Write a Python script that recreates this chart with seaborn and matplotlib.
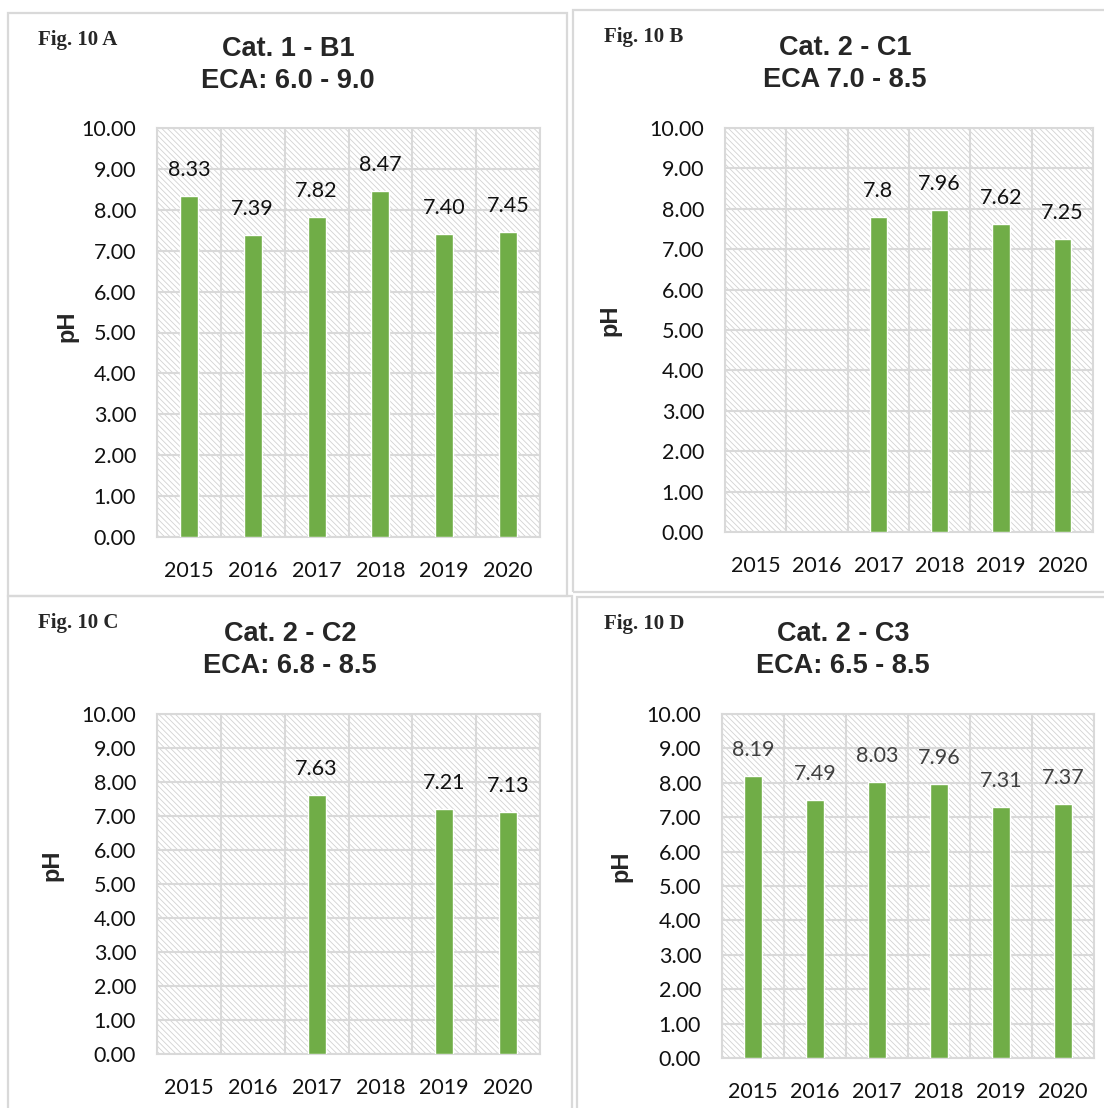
import numpy as np
import pandas as pd
import seaborn as sns
import matplotlib.pyplot as plt
from matplotlib.patches import Rectangle

# pH values per monitoring point and year (NaN = no sampling that year)
years = ["2015", "2016", "2017", "2018", "2019", "2020"]
ph_b1 = [8.33, 7.39, 7.82, 8.47, 7.40, 7.45]
ph_c1 = [np.nan, np.nan, 7.8, 7.96, 7.62, 7.25]
ph_c2 = [np.nan, np.nan, 7.63, np.nan, 7.21, 7.13]
ph_c3 = [8.19, 7.49, 8.03, 7.96, 7.31, 7.37]

fig_tags = ["Fig. 10 A", "Fig. 10 B", "Fig. 10 C", "Fig. 10 D"]
titles = ["Cat. 1 - B1\nECA: 6.0 - 9.0",
          "Cat. 2 - C1\nECA 7.0 - 8.5",
          "Cat. 2 - C2\nECA: 6.8 - 8.5",
          "Cat. 2 - C3\nECA: 6.5 - 8.5"]
y_ticks = [0, 1, 2, 3, 4, 5, 6, 7, 8, 9, 10]

sns.set_theme(style="white")
plt.rcParams["font.family"] = ["Lato", "DejaVu Sans"]
plt.rcParams["hatch.linewidth"] = 0.6

W, H = 1104, 1108
fig = plt.figure(figsize=(W / 100, H / 100), dpi=100)

GREEN = "#70ad47"
GRID = "#d9d9d9"


def fx(x):
    return x / W


def fy(y):
    return 1 - y / H


def panel_border(x0, y0, x1, y1):
    fig.patches.append(Rectangle((fx(x0), fy(y1)), fx(x1 - x0), (y1 - y0) / H,
                                 transform=fig.transFigure, fill=False,
                                 edgecolor=GRID, linewidth=1.6, zorder=0))


panels = [
    dict(vals=ph_b1, fmt="{:.2f}", lc="#111111", box=(157, 128, 540, 537),
         tag=(38, 40), title=(288, 65), ylab=(67, 326), border=(8, 13, 567, 596)),
    dict(vals=ph_c1, fmt="{:g}", lc="#111111", box=(725, 128, 1093, 532),
         tag=(604, 37), title=(845, 64), ylab=(610, 320), border=(573, 10, 1112, 592)),
    dict(vals=ph_c2, fmt="{:.2f}", lc="#111111", box=(157, 714, 540, 1054),
         tag=(38, 623), title=(290, 650), ylab=(52, 865), border=(8, 596, 572, 1116)),
    dict(vals=ph_c3, fmt="{:.2f}", lc="#404040", box=(722, 714, 1094, 1058),
         tag=(604, 624), title=(843, 650), ylab=(621, 866), border=(577, 597, 1112, 1116)),
]

for p, tag, title in zip(panels, fig_tags, titles):
    panel_border(*p["border"])
    x0, y0, x1, y1 = p["box"]
    ax = fig.add_axes([fx(x0), fy(y1), fx(x1 - x0), (y1 - y0) / H])
    ax.set_facecolor("white")
    # light diagonal hatching behind the plot area
    ax.add_patch(Rectangle((0, 0), 1, 1, transform=ax.transAxes, facecolor="white",
                           edgecolor="#d2d2d2", hatch="\\" * 6, linewidth=0, zorder=0))

    df = pd.DataFrame({"year": years, "pH": p["vals"]})
    sns.barplot(data=df, x="year", y="pH", order=years, color=GREEN,
                saturation=1, width=0.28, ax=ax, zorder=3)

    for i, v in enumerate(p["vals"]):
        if np.isnan(v):
            continue
        ax.annotate(p["fmt"].format(v), (i, v), xytext=(0, 26),
                    textcoords="offset pixels", ha="center", va="center",
                    fontsize=15.5, color=p["lc"], zorder=4)

    ax.set_ylim(0, 10)
    ax.set_xlim(-0.5, len(years) - 0.5)
    ax.set_yticks(y_ticks)
    ax.set_yticklabels([f"{t:.2f}" for t in y_ticks])
    ax.set_xticks(range(len(years)))
    ax.set_xticks(np.arange(-0.5, len(years), 1.0), minor=True)
    ax.grid(axis="y", which="major", color=GRID, linewidth=1.5, zorder=1)
    ax.grid(axis="x", which="minor", color=GRID, linewidth=1.5, zorder=1)
    ax.grid(axis="x", which="major", visible=False)
    ax.set_axisbelow(True)
    ax.tick_params(axis="both", which="both", length=0, labelsize=15.5,
                   colors="#111111")
    ax.tick_params(axis="y", pad=15)
    ax.tick_params(axis="x", pad=17)
    ax.set_xlabel("")
    ax.set_ylabel("")
    for s in ax.spines.values():
        s.set_color(GRID)
        s.set_linewidth(1.5)

    fig.text(fx(p["tag"][0]), fy(p["tag"][1]), tag, ha="left", va="center",
             fontsize=15, fontweight="bold", family=["Liberation Serif", "DejaVu Serif"])
    fig.text(fx(p["title"][0]), fy(p["title"][1]), title, ha="center", va="center",
             fontsize=19.5, fontweight="bold", linespacing=1.32,
             family=["Liberation Sans", "DejaVu Sans"])
    fig.text(fx(p["ylab"][0]), fy(p["ylab"][1]), "pH", ha="center", va="center",
             rotation=90, fontsize=17, fontweight="bold",
             family=["Liberation Sans", "DejaVu Sans"])

fig.savefig("out.png", dpi=100, facecolor="white")
